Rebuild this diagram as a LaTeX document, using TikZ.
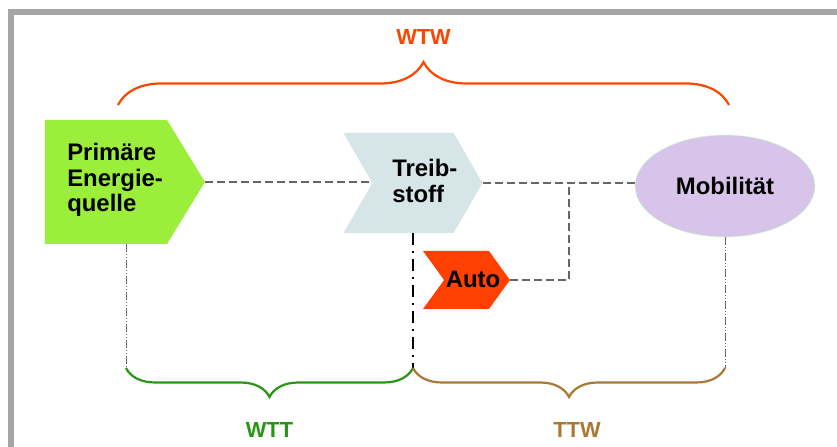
\documentclass[tikz,border=0pt]{standalone}
\usepackage{fontspec}
\setmainfont{Liberation Sans}
\usetikzlibrary{shapes.geometric,shapes.symbols,decorations.pathreplacing,calc}

\definecolor{wtwred}{RGB}{255,68,0}
\definecolor{wttgreen}{RGB}{40,150,20}
\definecolor{ttwbrown}{RGB}{168,120,52}
\definecolor{primgreen}{RGB}{155,238,58}
\definecolor{fuelblue}{RGB}{214,230,232}
\definecolor{autored}{RGB}{255,64,0}
\definecolor{moblilac}{RGB}{216,196,234}
\definecolor{framegray}{RGB}{166,166,166}

\begin{document}
\begin{tikzpicture}[x=0.25mm, y=-0.25mm,
    txt/.style={font=\fontsize{17}{18}\selectfont\bfseries, align=left, inner sep=0pt},
    stage/.style={signal, signal to=east, inner sep=0pt, outer sep=0pt},
    link/.style={draw=black!60, line width=0.5mm, dash pattern=on 2mm off 1mm},
    drop/.style={line width=0.25mm, black!60, dash pattern=on 2mm off 0.5mm on 0.25mm off 0.5mm on 0.25mm off 0.5mm},
    span/.style={decorate, line width=0.55mm, decoration={brace, amplitude=#1}},
    spanlbl/.style={font=\fontsize{15.5}{18}\selectfont\bfseries},
]
\useasboundingbox (0,0) rectangle (837,447);
% frame
\draw[framegray, line width=1.5mm] (837,12) -- (11,12) -- (11,447);

% stages
\node[stage, fill=primgreen, minimum width=40mm, minimum height=31mm, signal pointer angle=117] (prim) at (106,182) {};
\node[txt, anchor=west] (prim-txt) at (67,180) {Primäre\\Energie-\\quelle};

\node[stage, signal from=west, fill=fuelblue, minimum width=34.75mm, minimum height=25mm, signal pointer angle=120] (treib) at (413,183) {};
\node[txt, anchor=west] (treib-txt) at (392,181) {Treib-\\stoff};

\node[stage, signal from=west, fill=autored, minimum width=21.75mm, minimum height=14.5mm, signal pointer angle=108] (auto) at (466.5,280) {};
\node[txt] (auto-txt) at (473,279) {Auto};

\node[ellipse, fill=moblilac, draw=green!20, minimum width=45mm, minimum height=25.5mm, txt, align=center] (mob) at (725,186) {Mobilität};

% connectors
\coordinate (tap) at (569,183);
\draw[link] (prim.east) -- (prim.east -| treib.west);
\draw[link] (treib.east) -- (treib.east -| mob.west);
\draw[link] (auto.east) -| (tap);

% drops to the braces
\coordinate (prim-foot) at ([xshift=5mm]prim.south);
\coordinate (wtt-l) at (prim-foot |- 0,368);
\coordinate (wtt-r) at (treib.south |- 0,368);
\coordinate (ttw-r) at (mob.south |- 0,368);
\draw[drop] (prim-foot) -- (wtt-l);
\draw[drop] (mob.south) -- (ttw-r);
\draw[line width=0.5mm, dash pattern=on 3mm off 1.5mm on 0.5mm off 1.5mm] (treib.south) -- (wtt-r);

% braces
\coordinate (wtw-l) at (118,105);
\coordinate (wtw-r) at (729,105);
\draw[span=10.75mm, wtwred] (wtw-l) -- (wtw-r) node[spanlbl, midway, yshift=17mm] (wtw-lbl) {WTW};
\draw[span=7.25mm, wttgreen] (wtt-r) -- (wtt-l) node[spanlbl, midway, yshift=-15.5mm] (wtt-lbl) {WTT};
\draw[span=7.25mm, ttwbrown] (ttw-r) -- (wtt-r) node[spanlbl, midway, yshift=-15.5mm, xshift=2mm] (ttw-lbl) {TTW};
\end{tikzpicture}
\end{document}
